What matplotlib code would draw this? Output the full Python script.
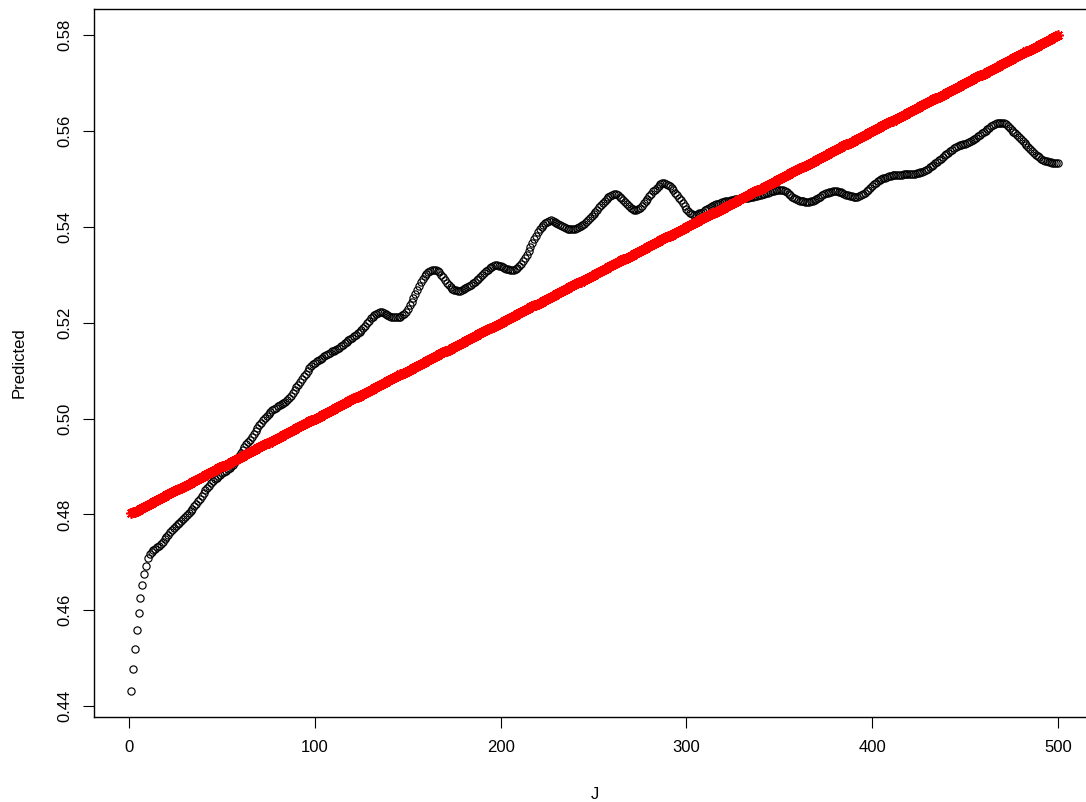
# Predicted value against J: smoothed prediction (circles) and linear trend (red)

import numpy as np
import matplotlib
matplotlib.use("Agg")
import matplotlib.pyplot as plt
from matplotlib.ticker import FormatStrFormatter

plt.rcParams["font.family"] = ["Liberation Sans", "DejaVu Sans"]

J = list(range(1, 501))

predicted = [
    0.4432, 0.4478, 0.4520, 0.4558, 0.4594, 0.4625, 0.4652, 0.4675, 0.4692, 0.4710,
    0.4718, 0.4722, 0.4725, 0.4728, 0.4731, 0.4734, 0.4738, 0.4743, 0.4748, 0.4753,
    0.4758, 0.4763, 0.4767, 0.4771, 0.4775, 0.4779, 0.4783, 0.4787, 0.4791, 0.4795,
    0.4799, 0.4803, 0.4807, 0.4812, 0.4817, 0.4822, 0.4828, 0.4833, 0.4839, 0.4844,
    0.4850, 0.4855, 0.4860, 0.4865, 0.4869, 0.4873, 0.4877, 0.4880, 0.4883, 0.4886,
    0.4889, 0.4891, 0.4894, 0.4897, 0.4900, 0.4904, 0.4909, 0.4915, 0.4921, 0.4928,
    0.4935, 0.4941, 0.4946, 0.4951, 0.4956, 0.4962, 0.4968, 0.4974, 0.4980, 0.4986,
    0.4991, 0.4996, 0.5001, 0.5005, 0.5009, 0.5013, 0.5017, 0.5020, 0.5023, 0.5026,
    0.5028, 0.5030, 0.5032, 0.5035, 0.5038, 0.5043, 0.5048, 0.5053, 0.5059, 0.5065,
    0.5070, 0.5076, 0.5082, 0.5088, 0.5094, 0.5100, 0.5105, 0.5110, 0.5114, 0.5117,
    0.5120, 0.5123, 0.5125, 0.5127, 0.5130, 0.5132, 0.5135, 0.5137, 0.5140, 0.5142,
    0.5144, 0.5146, 0.5148, 0.5151, 0.5154, 0.5157, 0.5160, 0.5163, 0.5166, 0.5169,
    0.5172, 0.5175, 0.5178, 0.5181, 0.5185, 0.5189, 0.5194, 0.5199, 0.5204, 0.5209,
    0.5213, 0.5217, 0.5219, 0.5221, 0.5222, 0.5222, 0.5221, 0.5219, 0.5217, 0.5215,
    0.5213, 0.5212, 0.5211, 0.5211, 0.5212, 0.5213, 0.5216, 0.5219, 0.5223, 0.5229,
    0.5236, 0.5244, 0.5252, 0.5260, 0.5268, 0.5276, 0.5284, 0.5291, 0.5297, 0.5302,
    0.5305, 0.5308, 0.5309, 0.5310, 0.5310, 0.5308, 0.5305, 0.5300, 0.5295, 0.5289,
    0.5283, 0.5278, 0.5274, 0.5271, 0.5269, 0.5268, 0.5267, 0.5267, 0.5268, 0.5270,
    0.5272, 0.5274, 0.5276, 0.5279, 0.5282, 0.5285, 0.5289, 0.5292, 0.5296, 0.5300,
    0.5304, 0.5308, 0.5311, 0.5314, 0.5317, 0.5319, 0.5320, 0.5320, 0.5319, 0.5318,
    0.5316, 0.5314, 0.5313, 0.5312, 0.5311, 0.5311, 0.5311, 0.5312, 0.5314, 0.5318,
    0.5323, 0.5329, 0.5335, 0.5342, 0.5350, 0.5358, 0.5366, 0.5374, 0.5382, 0.5389,
    0.5395, 0.5400, 0.5404, 0.5408, 0.5411, 0.5413, 0.5414, 0.5413, 0.5411, 0.5409,
    0.5406, 0.5404, 0.5401, 0.5399, 0.5397, 0.5396, 0.5395, 0.5395, 0.5395, 0.5396,
    0.5397, 0.5399, 0.5401, 0.5404, 0.5407, 0.5410, 0.5414, 0.5418, 0.5422, 0.5426,
    0.5431, 0.5436, 0.5441, 0.5446, 0.5450, 0.5455, 0.5459, 0.5462, 0.5465, 0.5467,
    0.5468, 0.5468, 0.5466, 0.5463, 0.5460, 0.5456, 0.5452, 0.5448, 0.5444, 0.5440,
    0.5438, 0.5436, 0.5436, 0.5437, 0.5440, 0.5444, 0.5449, 0.5454, 0.5459, 0.5464,
    0.5469, 0.5474, 0.5478, 0.5482, 0.5486, 0.5489, 0.5491, 0.5491, 0.5490, 0.5488,
    0.5485, 0.5481, 0.5476, 0.5471, 0.5466, 0.5461, 0.5456, 0.5450, 0.5444, 0.5438,
    0.5433, 0.5429, 0.5426, 0.5425, 0.5425, 0.5426, 0.5428, 0.5430, 0.5432, 0.5435,
    0.5437, 0.5439, 0.5441, 0.5443, 0.5445, 0.5447, 0.5448, 0.5450, 0.5451, 0.5452,
    0.5453, 0.5454, 0.5455, 0.5456, 0.5457, 0.5458, 0.5458, 0.5459, 0.5459, 0.5460,
    0.5460, 0.5461, 0.5461, 0.5462, 0.5462, 0.5463, 0.5464, 0.5465, 0.5466, 0.5467,
    0.5468, 0.5469, 0.5470, 0.5471, 0.5472, 0.5474, 0.5475, 0.5476, 0.5477, 0.5477,
    0.5477, 0.5476, 0.5474, 0.5472, 0.5469, 0.5466, 0.5463, 0.5461, 0.5458, 0.5456,
    0.5455, 0.5454, 0.5453, 0.5452, 0.5452, 0.5452, 0.5453, 0.5454, 0.5456, 0.5458,
    0.5461, 0.5463, 0.5466, 0.5468, 0.5470, 0.5471, 0.5472, 0.5473, 0.5474, 0.5474,
    0.5474, 0.5473, 0.5472, 0.5470, 0.5468, 0.5467, 0.5466, 0.5465, 0.5464, 0.5463,
    0.5463, 0.5463, 0.5464, 0.5466, 0.5468, 0.5471, 0.5474, 0.5478, 0.5482, 0.5486,
    0.5489, 0.5492, 0.5495, 0.5497, 0.5499, 0.5501, 0.5503, 0.5504, 0.5506, 0.5507,
    0.5508, 0.5508, 0.5509, 0.5509, 0.5509, 0.5509, 0.5510, 0.5510, 0.5510, 0.5510,
    0.5510, 0.5511, 0.5511, 0.5512, 0.5513, 0.5514, 0.5515, 0.5517, 0.5519, 0.5521,
    0.5524, 0.5527, 0.5530, 0.5533, 0.5536, 0.5539, 0.5542, 0.5545, 0.5549, 0.5552,
    0.5555, 0.5558, 0.5561, 0.5564, 0.5566, 0.5568, 0.5570, 0.5571, 0.5572, 0.5574,
    0.5575, 0.5577, 0.5579, 0.5581, 0.5583, 0.5586, 0.5589, 0.5592, 0.5595, 0.5598,
    0.5601, 0.5604, 0.5607, 0.5610, 0.5612, 0.5614, 0.5616, 0.5617, 0.5617, 0.5617,
    0.5616, 0.5614, 0.5611, 0.5607, 0.5603, 0.5599, 0.5595, 0.5591, 0.5587, 0.5583,
    0.5579, 0.5575, 0.5571, 0.5567, 0.5563, 0.5559, 0.5555, 0.5551, 0.5548, 0.5545,
    0.5542, 0.5540, 0.5538, 0.5537, 0.5536, 0.5535, 0.5534, 0.5534, 0.5533, 0.5533,
]

trend = [
    0.4802, 0.4804, 0.4806, 0.4808, 0.4810, 0.4812, 0.4814, 0.4816, 0.4818, 0.4820,
    0.4822, 0.4824, 0.4826, 0.4828, 0.4830, 0.4832, 0.4834, 0.4836, 0.4838, 0.4840,
    0.4842, 0.4844, 0.4846, 0.4848, 0.4850, 0.4852, 0.4854, 0.4856, 0.4858, 0.4860,
    0.4862, 0.4864, 0.4866, 0.4868, 0.4870, 0.4872, 0.4874, 0.4876, 0.4878, 0.4880,
    0.4882, 0.4884, 0.4886, 0.4888, 0.4890, 0.4892, 0.4894, 0.4896, 0.4898, 0.4900,
    0.4902, 0.4904, 0.4906, 0.4908, 0.4910, 0.4912, 0.4914, 0.4916, 0.4918, 0.4920,
    0.4922, 0.4924, 0.4926, 0.4928, 0.4930, 0.4932, 0.4934, 0.4936, 0.4938, 0.4940,
    0.4942, 0.4944, 0.4946, 0.4948, 0.4950, 0.4952, 0.4954, 0.4956, 0.4958, 0.4960,
    0.4962, 0.4964, 0.4966, 0.4968, 0.4970, 0.4972, 0.4974, 0.4976, 0.4978, 0.4980,
    0.4982, 0.4984, 0.4986, 0.4988, 0.4990, 0.4992, 0.4994, 0.4996, 0.4998, 0.5000,
    0.5002, 0.5004, 0.5006, 0.5008, 0.5010, 0.5012, 0.5014, 0.5016, 0.5018, 0.5020,
    0.5022, 0.5024, 0.5026, 0.5028, 0.5030, 0.5032, 0.5034, 0.5036, 0.5038, 0.5040,
    0.5042, 0.5044, 0.5046, 0.5048, 0.5050, 0.5052, 0.5054, 0.5056, 0.5058, 0.5060,
    0.5062, 0.5064, 0.5066, 0.5068, 0.5070, 0.5072, 0.5074, 0.5076, 0.5078, 0.5080,
    0.5082, 0.5084, 0.5086, 0.5088, 0.5090, 0.5092, 0.5094, 0.5096, 0.5098, 0.5100,
    0.5102, 0.5104, 0.5106, 0.5108, 0.5110, 0.5112, 0.5114, 0.5116, 0.5118, 0.5120,
    0.5122, 0.5124, 0.5126, 0.5128, 0.5130, 0.5132, 0.5134, 0.5136, 0.5138, 0.5140,
    0.5142, 0.5144, 0.5146, 0.5148, 0.5150, 0.5152, 0.5154, 0.5156, 0.5158, 0.5160,
    0.5162, 0.5164, 0.5166, 0.5168, 0.5170, 0.5172, 0.5174, 0.5176, 0.5178, 0.5180,
    0.5182, 0.5184, 0.5186, 0.5188, 0.5190, 0.5192, 0.5194, 0.5196, 0.5198, 0.5200,
    0.5202, 0.5204, 0.5206, 0.5208, 0.5210, 0.5212, 0.5214, 0.5216, 0.5218, 0.5220,
    0.5222, 0.5224, 0.5226, 0.5228, 0.5230, 0.5232, 0.5234, 0.5236, 0.5238, 0.5240,
    0.5242, 0.5244, 0.5246, 0.5248, 0.5250, 0.5252, 0.5254, 0.5256, 0.5258, 0.5260,
    0.5262, 0.5264, 0.5266, 0.5268, 0.5270, 0.5272, 0.5274, 0.5276, 0.5278, 0.5280,
    0.5282, 0.5284, 0.5286, 0.5288, 0.5290, 0.5292, 0.5294, 0.5296, 0.5298, 0.5300,
    0.5302, 0.5304, 0.5306, 0.5308, 0.5310, 0.5312, 0.5314, 0.5316, 0.5318, 0.5320,
    0.5322, 0.5324, 0.5326, 0.5328, 0.5330, 0.5332, 0.5334, 0.5336, 0.5338, 0.5340,
    0.5342, 0.5344, 0.5346, 0.5348, 0.5350, 0.5352, 0.5354, 0.5356, 0.5358, 0.5360,
    0.5362, 0.5364, 0.5366, 0.5368, 0.5370, 0.5372, 0.5374, 0.5376, 0.5378, 0.5380,
    0.5382, 0.5384, 0.5386, 0.5388, 0.5390, 0.5392, 0.5394, 0.5396, 0.5398, 0.5400,
    0.5402, 0.5404, 0.5406, 0.5408, 0.5410, 0.5412, 0.5414, 0.5416, 0.5418, 0.5420,
    0.5422, 0.5424, 0.5426, 0.5428, 0.5430, 0.5432, 0.5434, 0.5436, 0.5438, 0.5440,
    0.5442, 0.5444, 0.5446, 0.5448, 0.5450, 0.5452, 0.5454, 0.5456, 0.5458, 0.5460,
    0.5462, 0.5464, 0.5466, 0.5468, 0.5470, 0.5472, 0.5474, 0.5476, 0.5478, 0.5480,
    0.5482, 0.5484, 0.5486, 0.5488, 0.5490, 0.5492, 0.5494, 0.5496, 0.5498, 0.5500,
    0.5502, 0.5504, 0.5506, 0.5508, 0.5510, 0.5512, 0.5514, 0.5516, 0.5518, 0.5520,
    0.5522, 0.5524, 0.5526, 0.5528, 0.5530, 0.5532, 0.5534, 0.5536, 0.5538, 0.5540,
    0.5542, 0.5544, 0.5546, 0.5548, 0.5550, 0.5552, 0.5554, 0.5556, 0.5558, 0.5560,
    0.5562, 0.5564, 0.5566, 0.5568, 0.5570, 0.5572, 0.5574, 0.5576, 0.5578, 0.5580,
    0.5582, 0.5584, 0.5586, 0.5588, 0.5590, 0.5592, 0.5594, 0.5596, 0.5598, 0.5600,
    0.5602, 0.5604, 0.5606, 0.5608, 0.5610, 0.5612, 0.5614, 0.5616, 0.5618, 0.5620,
    0.5622, 0.5624, 0.5626, 0.5628, 0.5630, 0.5632, 0.5634, 0.5636, 0.5638, 0.5640,
    0.5642, 0.5644, 0.5646, 0.5648, 0.5650, 0.5652, 0.5654, 0.5656, 0.5658, 0.5660,
    0.5662, 0.5664, 0.5666, 0.5668, 0.5670, 0.5672, 0.5674, 0.5676, 0.5678, 0.5680,
    0.5682, 0.5684, 0.5686, 0.5688, 0.5690, 0.5692, 0.5694, 0.5696, 0.5698, 0.5700,
    0.5702, 0.5704, 0.5706, 0.5708, 0.5710, 0.5712, 0.5714, 0.5716, 0.5718, 0.5720,
    0.5722, 0.5724, 0.5726, 0.5728, 0.5730, 0.5732, 0.5734, 0.5736, 0.5738, 0.5740,
    0.5742, 0.5744, 0.5746, 0.5748, 0.5750, 0.5752, 0.5754, 0.5756, 0.5758, 0.5760,
    0.5762, 0.5764, 0.5766, 0.5768, 0.5770, 0.5772, 0.5774, 0.5776, 0.5778, 0.5780,
    0.5782, 0.5784, 0.5786, 0.5788, 0.5790, 0.5792, 0.5794, 0.5796, 0.5798, 0.5800,
]

x_ticks = [0, 100, 200, 300, 400, 500]
y_ticks = [0.44, 0.46, 0.48, 0.50, 0.52, 0.54, 0.56, 0.58]


def padded_range(values, frac=0.04):
    # same 4% extension R uses for its default axis limits
    lo, hi = min(values), max(values)
    ext = (hi - lo) * frac
    return lo - ext, hi + ext


def main():
    fig = plt.figure(figsize=(10.86, 8.02), dpi=100)
    # plot region runs a little past the right edge of the image
    ax = fig.add_axes([0.0866, 0.106, 0.9217, 0.8828])

    ax.plot(J, predicted, linestyle="none", marker="o", ms=5.2,
            mfc="none", mec="black", mew=0.85)
    ax.plot(J, trend, linestyle="none", marker=(8, 2, 0), ms=7.5,
            mec="red", mfc="red", mew=1.2)

    ax.set_xlim(*padded_range(J))
    ax.set_ylim(*padded_range(predicted + trend))

    ax.set_xticks(x_ticks)
    ax.set_yticks(y_ticks)
    ax.yaxis.set_major_formatter(FormatStrFormatter("%.2f"))
    ax.tick_params(axis="both", direction="out", length=7.7, width=0.8,
                   labelsize=12, colors="black")
    ax.tick_params(axis="x", pad=9)
    ax.tick_params(axis="y", pad=8)
    for lab in ax.get_yticklabels():
        lab.set_rotation(90)
        lab.set_va("center")

    for spine in ax.spines.values():
        spine.set_linewidth(1.0)
        spine.set_color("black")

    ax.set_xlabel("J", fontsize=12, labelpad=23)
    ax.set_ylabel("Predicted", fontsize=12, labelpad=22)

    fig.savefig("out.png", dpi=100)
    plt.close(fig)


if __name__ == "__main__":
    main()
